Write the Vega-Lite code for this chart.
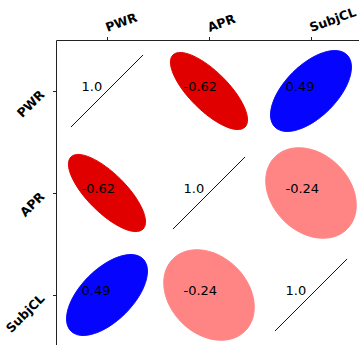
{
  "$schema": "https://vega.github.io/schema/vega-lite/v6.json",
  "width": 306,
  "height": 306,
  "autosize": "none",
  "padding": {"left": 56, "top": 40, "right": 0, "bottom": 0},
  "background": "white",
  "config": {
    "view": {"stroke": null},
    "axis": {
      "grid": false,
      "title": null,
      "domainColor": "#222",
      "domainWidth": 1,
      "tickColor": "#222",
      "tickWidth": 1,
      "tickSize": 3.5,
      "labelFont": "DejaVu Sans",
      "labelFontWeight": "bold",
      "labelFontSize": 12.5,
      "labelColor": "#000"
    }
  },
  "data": {
    "values": [
      {"row": "PWR", "col": "PWR", "r": 1.0},
      {"row": "PWR", "col": "APR", "r": -0.62},
      {"row": "PWR", "col": "SubjCL", "r": 0.49},
      {"row": "APR", "col": "PWR", "r": -0.62},
      {"row": "APR", "col": "APR", "r": 1.0},
      {"row": "APR", "col": "SubjCL", "r": -0.24},
      {"row": "SubjCL", "col": "PWR", "r": 0.49},
      {"row": "SubjCL", "col": "APR", "r": -0.24},
      {"row": "SubjCL", "col": "SubjCL", "r": 1.0}
    ]
  },
  "encoding": {
    "x": {
      "field": "col",
      "type": "nominal",
      "sort": ["PWR", "APR", "SubjCL"],
      "scale": {"paddingInner": 0, "paddingOuter": 0},
      "axis": {
        "orient": "top",
        "bandPosition": 0.5,
        "labelAngle": -20,
        "labelAlign": "left",
        "labelBaseline": "alphabetic",
        "labelPadding": 5
      }
    },
    "y": {
      "field": "row",
      "type": "nominal",
      "sort": ["PWR", "APR", "SubjCL"],
      "scale": {"paddingInner": 0, "paddingOuter": 0},
      "axis": {
        "orient": "left",
        "bandPosition": 0.5,
        "labelAngle": -45,
        "labelAlign": "right",
        "labelBaseline": "middle",
        "labelPadding": 10.5,
        "labelOffset": 1
      }
    }
  },
  "layer": [
    {
      "mark": {"type": "point", "filled": true, "opacity": 1, "size": 10404, "strokeWidth": 0.9},
      "encoding": {
        "shape": {
          "field": "r",
          "type": "nominal",
          "legend": null,
          "scale": {
            "domain": [1, -0.62, 0.49, -0.24],
            "range": [
              "M -1 0 L 1 0",
              "M 1 0 C 1 0.2099 0.5523 0.38 0 0.38 C -0.5523 0.38 -1 0.2099 -1 0 C -1 -0.2099 -0.5523 -0.38 0 -0.38 C 0.5523 -0.38 1 -0.2099 1 0 Z",
              "M 1 0 C 1 0.2817 0.5523 0.51 0 0.51 C -0.5523 0.51 -1 0.2817 -1 0 C -1 -0.2817 -0.5523 -0.51 0 -0.51 C 0.5523 -0.51 1 -0.2817 1 0 Z",
              "M 1 0 C 1 0.4197 0.5523 0.76 0 0.76 C -0.5523 0.76 -1 0.4197 -1 0 C -1 -0.4197 -0.5523 -0.76 0 -0.76 C 0.5523 -0.76 1 -0.4197 1 0 Z"
            ]
          }
        },
        "angle": {
          "field": "r",
          "type": "quantitative",
          "legend": null,
          "scale": {"type": "threshold", "domain": [0], "range": [45, -45]}
        },
        "color": {
          "field": "r",
          "type": "quantitative",
          "legend": null,
          "scale": {
            "domain": [-1, -0.5, 0, 0.5, 1],
            "range": ["#800000", "#ff0000", "#ffffff", "#0000ff", "#00004d"],
            "interpolate": "rgb"
          }
        },
        "stroke": {
          "field": "r",
          "type": "quantitative",
          "legend": null,
          "scale": {
            "domain": [-1, -0.5, 0, 0.5, 1],
            "range": ["#800000", "#ff0000", "#ffffff", "#0000ff", "#00004d"],
            "interpolate": "rgb"
          }
        }
      }
    },
    {
      "transform": [
        {"calculate": "datum.r === 1 ? '1.0' : '' + datum.r", "as": "label"}
      ],
      "mark": {
        "type": "text",
        "align": "left",
        "baseline": "alphabetic",
        "dx": -25.5,
        "font": "DejaVu Sans",
        "fontSize": 13,
        "color": "#000"
      },
      "encoding": {
        "text": {"field": "label", "type": "nominal"}
      }
    }
  ]
}
